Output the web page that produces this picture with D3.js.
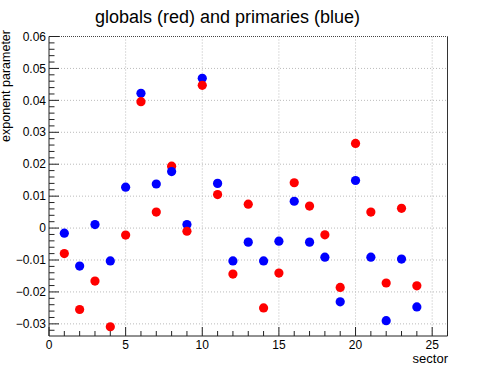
<!DOCTYPE html>
<html>
<head>
    <meta charset="utf-8">
    <title>globals and primaries</title>
    <script src="https://d3js.org/d3.v7.min.js"></script>
    <style>
        body { margin: 0; background: #fff; }
        text { font-family: "Liberation Sans", Arial, sans-serif; fill: #000; }
    </style>
</head>
<body>
    <div id="chart"></div>

    <script>
        // sector numbers
        const sectors = [1, 2, 3, 4, 5, 6, 7, 8, 9, 10, 11, 12, 13, 14, 15, 16, 17, 18, 19, 20, 21, 22, 23, 24];
        // globals (red)
        const globals = [-0.0080, -0.0255, -0.0166, -0.0309, -0.0022, 0.0396, 0.0050, 0.0194,
                         -0.0010, 0.0447, 0.0105, -0.0144, 0.0075, -0.0250, -0.0141, 0.0142,
                         0.0069, -0.0021, -0.0186, 0.0265, 0.0050, -0.0172, 0.0062, -0.0181];
        // primaries (blue)
        const primaries = [-0.0016, -0.0119, 0.0011, -0.0103, 0.0128, 0.0422, 0.0138, 0.0177,
                           0.0011, 0.0469, 0.0140, -0.0103, -0.0044, -0.0103, -0.0041, 0.0084,
                           -0.0044, -0.0091, -0.0231, 0.0149, -0.0091, -0.0290, -0.0097, -0.0247];
        const xTicks = [0, 5, 10, 15, 20, 25];
        const yTicks = [-0.03, -0.02, -0.01, 0, 0.01, 0.02, 0.03, 0.04, 0.05, 0.06];

        const W = 498, H = 375;
        const padL = 49, padR = 447.5, padT = 36.5, padB = 336;

        const svg = d3.select("#chart").append("svg")
            .attr("width", W)
            .attr("height", H);

        const x = d3.scaleLinear().domain([0, 26]).range([padL, padR]);
        const y = d3.scaleLinear().domain([-0.0338, 0.06]).range([padB, padT]);

        // grid
        svg.append("g").selectAll("line")
            .data(xTicks.filter(d => d > 0))
            .enter().append("line")
            .attr("x1", d => x(d)).attr("x2", d => x(d))
            .attr("y1", padT).attr("y2", padB)
            .attr("stroke", "#bbb").attr("stroke-dasharray", "1,2");

        svg.append("g").selectAll("line")
            .data(yTicks.filter(d => d < 0.06))
            .enter().append("line")
            .attr("x1", padL).attr("x2", padR)
            .attr("y1", d => y(d)).attr("y2", d => y(d))
            .attr("stroke", "#bbb").attr("stroke-dasharray", "1,2");

        // frame: top dotted, right solid
        svg.append("line")
            .attr("x1", padL).attr("x2", padR)
            .attr("y1", padT).attr("y2", padT)
            .attr("stroke", "#444").attr("stroke-dasharray", "1,1");
        svg.append("line")
            .attr("x1", padR).attr("x2", padR)
            .attr("y1", padT).attr("y2", padB)
            .attr("stroke", "#333");

        // x axis
        const xAxis = svg.append("g").attr("transform", `translate(0,${padB})`);
        xAxis.append("line")
            .attr("x1", padL).attr("x2", padR)
            .attr("stroke", "#222");
        xAxis.selectAll(".tick")
            .data(d3.range(0, 27))
            .enter().append("line")
            .attr("x1", d => x(d)).attr("x2", d => x(d))
            .attr("y1", 0).attr("y2", d => d % 5 === 0 ? -9 : -5)
            .attr("stroke", "#222");
        xAxis.selectAll("text")
            .data(xTicks)
            .enter().append("text")
            .attr("x", d => x(d))
            .attr("y", 12.5)
            .attr("text-anchor", "middle")
            .style("font-size", "12px")
            .text(d => d);

        // y axis
        const yAxis = svg.append("g").attr("transform", `translate(${padL},0)`);
        yAxis.append("line")
            .attr("y1", padT).attr("y2", padB)
            .attr("stroke", "#222");
        const yMinor = d3.range(-16, 31).map(i => i * 0.002);
        yAxis.selectAll(".tick")
            .data(yMinor)
            .enter().append("line")
            .attr("x1", 0)
            .attr("x2", d => Math.round(d * 1000) % 10 === 0 ? 10 : 5.5)
            .attr("y1", d => y(d)).attr("y2", d => y(d))
            .attr("stroke", "#222");
        yAxis.selectAll("text")
            .data(yTicks)
            .enter().append("text")
            .attr("x", -3)
            .attr("y", d => y(d))
            .attr("dy", "0.35em")
            .attr("text-anchor", "end")
            .style("font-size", "12px")
            .text(d => d === 0 ? "0" : (d < 0 ? "\u2212" + d3.format(".2f")(-d) : d3.format(".2f")(d)));

        // axis titles
        svg.append("text")
            .attr("transform", "translate(10,30) rotate(-90)")
            .attr("text-anchor", "end")
            .style("font-size", "12.5px")
            .text("exponent parameter");
        svg.append("text")
            .attr("x", 448)
            .attr("y", 363)
            .attr("text-anchor", "end")
            .style("font-size", "13px")
            .text("sector");

        // title
        svg.append("text")
            .attr("x", 227.5)
            .attr("y", 23)
            .attr("text-anchor", "middle")
            .style("font-size", "18px")
            .text("globals (red) and primaries (blue)");

        // markers: higher values drawn first, as in the picture
        const points = [];
        sectors.forEach((s, i) => {
            points.push({ s: s, v: globals[i], c: "#ff0000" });
            points.push({ s: s, v: primaries[i], c: "#0000ff" });
        });
        points.sort((a, b) => b.v - a.v);

        svg.append("g").selectAll("circle")
            .data(points)
            .enter().append("circle")
            .attr("cx", d => x(d.s))
            .attr("cy", d => y(d.v))
            .attr("r", 4.6)
            .attr("fill", d => d.c);
    </script>
</body>
</html>
